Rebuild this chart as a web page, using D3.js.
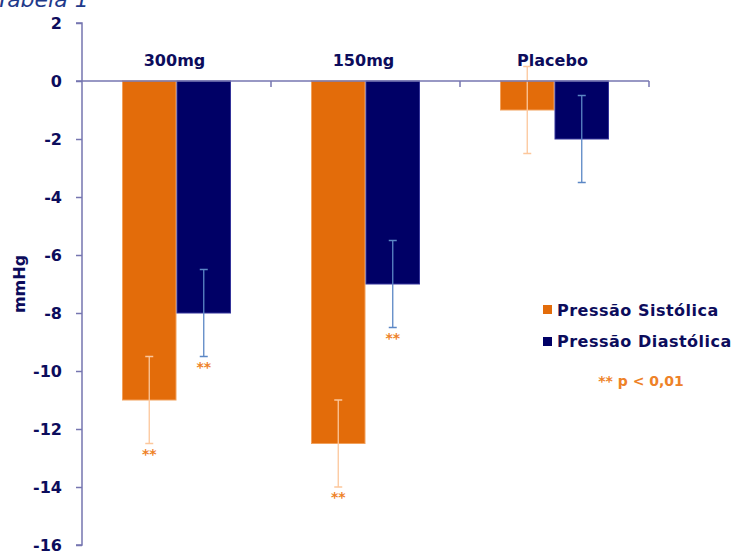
<!DOCTYPE html>
<html><head><meta charset="utf-8">
<script src="https://cdn.jsdelivr.net/npm/d3@7"></script>
<style>
html,body{margin:0;padding:0;background:#fff;}
svg{display:block;font-family:"DejaVu Sans",Verdana,sans-serif;}
</style></head>
<body>
<svg id="chart" width="733" height="551"></svg>
<script>
const categories = ["300mg", "150mg", "Placebo"];
const seriesNames = ["Pressão Sistólica", "Pressão Diastólica"];
const sistolica = [-11, -12.5, -1];
const diastolica = [-8, -7, -2];
const errSistolica = [1.5, 1.5, 1.5];
const errDiastolica = [1.5, 1.5, 1.5];
const sigSistolica = [true, true, false];
const sigDiastolica = [true, true, false];
const yTicks = [2, 0, -2, -4, -6, -8, -10, -12, -14, -16];
const titleText = "Tabela 1";
const yLabel = "mmHg";
const noteText = "** p < 0,01";

const colors = ["#e36c0a", "#000066"];
const strokes = ["#f2a15c", "#34349a"];
const errColors = ["#fcc79b", "#5b87c5"];
const textColor = "#0c0c5c";
const axisColor = "#7676b0";
const orangeText = "#ee8228";

const svg = d3.select("#chart");
const mLeft = 82, mRight = 649, mTop = 23, mBottom = 545;

const y = d3.scaleLinear().domain([-16, 2]).range([mBottom, mTop]);
const x0 = d3.scaleBand().domain(categories).range([mLeft, mRight]).padding(0);
const x1 = d3.scaleBand().domain(seriesNames).range([0, x0.bandwidth()]).paddingInner(0).paddingOuter(0.734);

const data = categories.map((c, i) => ({
  cat: c,
  vals: [
    {s: seriesNames[0], v: sistolica[i], e: errSistolica[i], sig: sigSistolica[i], k: 0},
    {s: seriesNames[1], v: diastolica[i], e: errDiastolica[i], sig: sigDiastolica[i], k: 1}
  ]
}));

// title
svg.append("text").attr("x", -4).attr("y", 7).attr("font-size", 22).attr("font-style", "italic")
  .attr("fill", "#1f3a8a").text(titleText);

// y axis
const yAxis = d3.axisLeft(y).tickValues(yTicks).tickSize(6).tickPadding(14).tickFormat(d3.format("d"));
const gy = svg.append("g").attr("transform", `translate(${mLeft},0)`).call(yAxis);
gy.select(".domain").attr("stroke", axisColor).attr("stroke-width", 1.5).attr("d", `M-6,${mTop}H0V${mBottom}H-6`);
gy.selectAll(".tick line").attr("stroke", axisColor).attr("stroke-width", 1.5);
gy.selectAll(".tick text").attr("fill", textColor).attr("font-size", 16).attr("font-weight", "bold")
  .attr("font-family", "'DejaVu Sans', Verdana, sans-serif").text(d => d < 0 ? "-" + Math.abs(d) : d);

// y label
svg.append("text").attr("transform", `translate(25,284) rotate(-90)`).attr("text-anchor", "middle")
  .attr("font-size", 16).attr("font-weight", "bold").attr("fill", textColor).text(yLabel);

// bars
const groups = svg.selectAll("g.grp").data(data).enter().append("g").attr("class", "grp")
  .attr("transform", d => `translate(${x0(d.cat)},0)`);
groups.selectAll("rect").data(d => d.vals).enter().append("rect")
  .attr("x", d => x1(d.s) + 0.5)
  .attr("width", x1.bandwidth() - 1)
  .attr("y", d => Math.min(y(0), y(d.v)))
  .attr("height", d => Math.abs(y(d.v) - y(0)))
  .attr("fill", d => colors[d.k])
  .attr("stroke", d => strokes[d.k]).attr("stroke-width", 1);

// zero axis (category axis)
const xAxis = d3.axisBottom(x0).tickSize(0).tickFormat("");
const gx = svg.append("g").attr("transform", `translate(0,${y(0)})`).call(xAxis);
gx.select(".domain").attr("stroke", axisColor).attr("stroke-width", 1.5).attr("d", `M${mLeft - 6},0H${mRight}`);
const boundaries = categories.map(c => x0(c)).slice(1).concat([mRight]);
svg.selectAll("line.ctick").data(boundaries).enter().append("line").attr("class", "ctick")
  .attr("x1", d => d).attr("x2", d => d).attr("y1", y(0)).attr("y2", y(0) + 6)
  .attr("stroke", axisColor).attr("stroke-width", 1.5);

// category labels
svg.selectAll("text.cat").data(categories).enter().append("text").attr("class", "cat")
  .attr("x", d => x0(d) + x0.bandwidth() / 2 - 2).attr("y", 66).attr("text-anchor", "middle")
  .attr("font-size", 16).attr("font-weight", "bold").attr("fill", textColor).text(d => d);

// error bars
const eb = groups.selectAll("g.eb").data(d => d.vals).enter().append("g").attr("class", "eb");
const cx = d => x1(d.s) + x1.bandwidth() / 2;
eb.append("line").attr("x1", cx).attr("x2", cx)
  .attr("y1", d => y(d.v + d.e)).attr("y2", d => y(d.v - d.e))
  .attr("stroke", d => errColors[d.k]).attr("stroke-width", 1.3);
[1, -1].forEach(sgn => {
  eb.append("line").attr("x1", d => cx(d) - 4).attr("x2", d => cx(d) + 4)
    .attr("y1", d => y(d.v + sgn * d.e)).attr("y2", d => y(d.v + sgn * d.e))
    .attr("stroke", d => errColors[d.k]).attr("stroke-width", 1.5);
});
eb.filter(d => d.sig).append("text").attr("x", cx).attr("y", d => y(d.v - d.e) + 15)
  .attr("text-anchor", "middle").attr("font-size", 14).attr("font-weight", "bold")
  .attr("fill", orangeText).text("**");

// legend
const lg = svg.append("g");
seriesNames.forEach((s, i) => {
  lg.append("rect").attr("x", 543).attr("y", 305 + i * 32).attr("width", 9).attr("height", 9).attr("fill", colors[i]);
  lg.append("text").attr("x", 557).attr("y", 316 + i * 31).attr("font-size", 16).attr("font-weight", "bold")
    .attr("letter-spacing", "0.5px").attr("fill", textColor).text(s);
});
svg.append("text").attr("x", 641).attr("y", 386).attr("text-anchor", "middle").attr("font-size", 14)
  .attr("font-weight", "bold").attr("fill", orangeText).text(noteText);
</script>
</body></html>
